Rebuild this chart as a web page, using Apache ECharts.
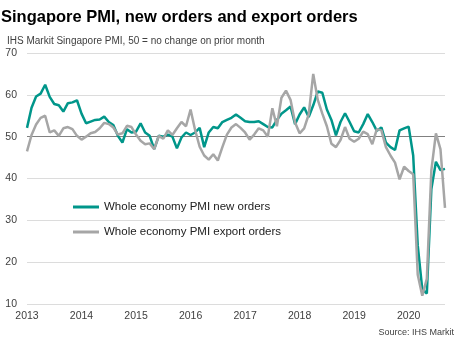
<!DOCTYPE html>
<html>
<head>
<meta charset="utf-8">
<script src="https://cdn.jsdelivr.net/npm/echarts@6/dist/echarts.min.js"></script>
<style>
  html, body { margin: 0; padding: 0; background: #ffffff; }
  #chart { width: 470px; height: 347px; }
</style>
</head>
<body>
<div id="chart"></div>
<script>
// Monthly readings, January 2013 to September 2020
const firstYear = 2013;
const lastYear = 2020;
const lastMonth = 9;

// Whole economy PMI new orders index
const newOrders = [
  52.1, 56.9, 59.6, 60.3, 62.4, 59.5, 57.8, 57.5, 56.0, 58.0, 58.2, 58.7,
  55.5, 53.2, 53.6, 54.0, 54.1, 54.8, 53.5, 52.8, 50.2, 48.6, 51.8, 51.0,
  51.2, 53.2, 51.0, 50.2, 47.0, 50.2, 50.0, 50.5, 50.0, 47.2, 49.8, 51.0,
  50.4, 51.0, 52.1, 47.5, 51.0, 52.3, 52.0, 53.5, 54.0, 54.5, 55.3, 54.5,
  53.7, 53.5, 53.5, 53.7, 53.0, 52.3, 52.2, 54.0, 55.5, 56.3, 57.2, 53.0,
  55.3, 57.0, 54.7, 57.5, 60.8, 60.5, 56.5, 54.0, 50.3, 53.5, 55.6, 53.5,
  51.3, 51.0, 53.0, 55.4, 53.5, 51.4, 52.2, 48.6, 47.5, 46.8, 51.5, 52.0,
  52.4, 45.5, 24.0, 13.5, 12.5, 37.5, 44.0, 42.0, 42.3
];

// Whole economy PMI export orders index
const exportOrders = [
  46.5, 50.4, 52.9, 54.5, 55.0, 51.0, 51.5, 50.2, 52.0, 52.3, 51.8, 50.2,
  49.3, 50.0, 50.8, 51.1, 52.0, 53.3, 53.0, 52.2, 50.5, 50.8, 52.6, 52.3,
  50.5, 49.0, 48.2, 48.4, 47.0, 50.2, 49.5, 51.5, 50.4, 52.0, 53.5, 52.5,
  56.5, 51.6, 47.6, 45.5, 44.5, 45.8, 44.3, 47.5, 50.5, 52.2, 53.0, 52.1,
  51.0, 49.3, 50.5, 52.0, 51.5, 50.0, 56.8, 52.5, 59.3, 61.0, 58.8, 53.4,
  50.8, 52.0, 55.3, 65.0, 58.8, 55.5, 52.5, 48.3, 47.5, 49.2, 52.3, 49.5,
  48.8, 49.5, 51.2, 50.6, 48.2, 51.8, 51.5, 47.5, 45.5, 43.8, 39.8, 42.8,
  41.8, 41.0, 17.0, 12.0, 16.0, 42.0, 50.8, 47.0, 33.0
];

const seriesNames = ['Whole economy PMI new orders', 'Whole economy PMI export orders'];
const yMin = 10, yMax = 70, yStep = 10;
const noChangeLevel = 50;

// Month categories as "YYYY-MM"
const months = [];
for (let y = firstYear; y <= lastYear; y++) {
  const end = (y === lastYear) ? lastMonth : 12;
  for (let m = 1; m <= end; m++) months.push(y + '-' + String(m).padStart(2, '0'));
}

const font = "'Liberation Sans', Arial, sans-serif";
const gridColours = [];
for (let v = yMin; v <= yMax; v += yStep) gridColours.push(v === noChangeLevel ? '#808080' : '#dcdcdc');

const chart = echarts.init(document.getElementById('chart'), null, { renderer: 'canvas' });
chart.setOption({
  animation: false,
  backgroundColor: '#ffffff',
  textStyle: { fontFamily: font },
  title: [
    {
      text: 'Singapore PMI, new orders and export orders',
      left: 1, top: 9, padding: 0,
      textStyle: { fontFamily: font, fontSize: 16.5, fontWeight: 'bold', color: '#000000' }
    },
    {
      text: 'IHS Markit Singapore PMI, 50 = no change on prior month',
      left: 7, top: 36, padding: 0,
      textStyle: { fontFamily: font, fontSize: 10, fontWeight: 'normal', color: '#404040' }
    },
    {
      text: 'Source: IHS Markit',
      right: 16, top: 328, padding: 0,
      textStyle: { fontFamily: font, fontSize: 9, fontWeight: 'normal', color: '#404040' }
    }
  ],
  legend: {
    orient: 'vertical',
    left: 73, top: 201, padding: 0,
    itemGap: 13,
    icon: 'rect',
    itemWidth: 26, itemHeight: 3,
    textStyle: { fontFamily: font, fontSize: 11.5, color: '#222222' },
    data: seriesNames
  },
  grid: { left: 27, right: 25, top: 53, bottom: 43, containLabel: false },
  xAxis: {
    type: 'category',
    data: months,
    boundaryGap: false,
    axisLine: { show: false },
    axisTick: { show: false },
    splitLine: { show: false },
    axisLabel: {
      interval: (i) => i % 12 === 0,
      formatter: (v) => v.slice(0, 4),
      margin: 7,
      fontFamily: font, fontSize: 10.5, color: '#404040'
    }
  },
  yAxis: {
    type: 'value',
    min: yMin, max: yMax, interval: yStep,
    axisLine: { show: false },
    axisTick: { show: false },
    axisLabel: { margin: 10, fontFamily: font, fontSize: 10.5, color: '#404040' },
    splitLine: { show: true, lineStyle: { color: gridColours, width: 1 } }
  },
  series: [
    {
      name: seriesNames[0], type: 'line', data: newOrders,
      showSymbol: false, symbol: 'none',
      lineStyle: { color: '#00968a', width: 2.5 },
      itemStyle: { color: '#00968a' }
    },
    {
      name: seriesNames[1], type: 'line', data: exportOrders,
      showSymbol: false, symbol: 'none',
      lineStyle: { color: '#a6a6a6', width: 2.5 },
      itemStyle: { color: '#a6a6a6' }
    }
  ]
});
</script>
</body>
</html>
